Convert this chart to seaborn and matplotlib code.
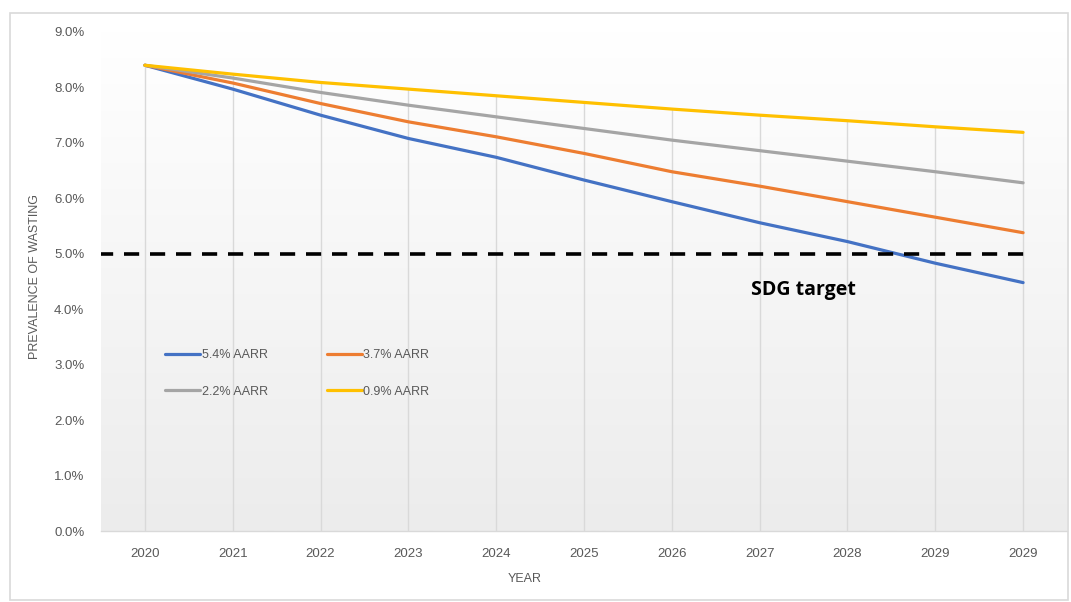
import numpy as np
import pandas as pd
import matplotlib
matplotlib.use("Agg")
import matplotlib.pyplot as plt
import seaborn as sns
from matplotlib.ticker import PercentFormatter
from matplotlib.patches import Rectangle

# Category labels as printed on the x-axis (last label repeats in the source)
year_labels = ["2020", "2021", "2022", "2023", "2024", "2025",
               "2026", "2027", "2028", "2029", "2029"]

# Projected prevalence of wasting (%) for each AARR scenario
aarr_54 = [8.40, 7.97, 7.50, 7.08, 6.74, 6.33, 5.94, 5.56, 5.22, 4.83, 4.48]
aarr_37 = [8.40, 8.08, 7.71, 7.38, 7.11, 6.81, 6.48, 6.22, 5.94, 5.66, 5.38]
aarr_22 = [8.40, 8.17, 7.91, 7.68, 7.47, 7.26, 7.05, 6.86, 6.67, 6.48, 6.28]
aarr_09 = [8.40, 8.24, 8.09, 7.97, 7.85, 7.73, 7.61, 7.50, 7.40, 7.29, 7.19]

series_names = ["5.4% AARR", "3.7% AARR", "2.2% AARR", "0.9% AARR"]
sdg_target = 5.0

colours = {"5.4% AARR": "#4472C4", "3.7% AARR": "#ED7D31",
           "2.2% AARR": "#A5A5A5", "0.9% AARR": "#FFC000"}

# long-form table for seaborn
pos = np.arange(len(year_labels))
rows = []
for name, vals in zip(series_names, [aarr_54, aarr_37, aarr_22, aarr_09]):
    for p, v in zip(pos, vals):
        rows.append({"pos": p, "value": v, "series": name})
df = pd.DataFrame(rows)

sns.set_style("white")
plt.rcParams["font.family"] = ["Liberation Sans Narrow", "Liberation Sans", "DejaVu Sans"]

fig = plt.figure(figsize=(10.71, 6.02), dpi=100)
ax = fig.add_axes([101 / 1071, 71 / 602, 966 / 1071, 499 / 602])

# outer chart frame
fig.patches.append(Rectangle((10 / 1071, 2 / 602), 1058 / 1071, 587 / 602,
                             transform=fig.transFigure, fill=False,
                             edgecolor="#d9d9d9", linewidth=1.2, zorder=0))

# gradient plot-area background (white at top -> light grey at bottom)
grad = np.linspace(1, 0, 256).reshape(-1, 1)
ax.imshow(grad, extent=[0, 1, 0, 1], transform=ax.transAxes, aspect="auto",
          cmap=matplotlib.colors.LinearSegmentedColormap.from_list(
              "bg", ["#ececec", "#ffffff"]), zorder=0)

# drop lines from top series down to the axis
top_vals = df.groupby("pos")["value"].max()
ax.vlines(top_vals.index, 0, top_vals.values, color="#d9d9d9", linewidth=1.0, zorder=1)

sns.lineplot(data=df, x="pos", y="value", hue="series", hue_order=series_names,
             palette=colours, linewidth=2.3, ax=ax, legend=False, zorder=3)

# SDG target line
ax.plot([-0.53, 10.12], [sdg_target, sdg_target], color="black", linewidth=2.6,
        dashes=(4.2, 3.0), zorder=4, solid_capstyle="butt")
ax.text(6.9, sdg_target - 0.65, "SDG target", fontsize=14, fontweight="bold",
        color="black", family=["Open Sans", "DejaVu Sans"], va="center", ha="left")

ax.set_xlim(-0.5, 10.5)
ax.set_ylim(0, 9.0)
ax.set_yticks(np.arange(0, 9.01, 1.0))
ax.yaxis.set_major_formatter(PercentFormatter(decimals=1))
ax.set_xticks(pos)
ax.set_xticklabels(year_labels)
ax.tick_params(axis="both", length=0, labelsize=9.5, labelcolor="#595959")
ax.tick_params(axis="x", pad=12)
ax.tick_params(axis="y", pad=12)

for side in ["top", "right", "left"]:
    ax.spines[side].set_visible(False)
ax.spines["bottom"].set_color("#d9d9d9")
ax.spines["bottom"].set_linewidth(1.0)

ax.set_xlabel("YEAR", fontsize=9, color="#595959")
ax.xaxis.set_label_coords((525 - 101) / 966, -0.085)
ax.set_ylabel("PREVALENCE OF WASTING", fontsize=9, color="#595959")
ax.yaxis.set_label_coords(-0.062, 0.51)

# legend laid out in two rows, two columns
handles = [plt.Line2D([], [], color=colours[n], linewidth=2.3) for n in series_names]
order = [0, 2, 1, 3]
leg = ax.legend([handles[i] for i in order], [series_names[i] for i in order],
                ncol=2, loc="center left", bbox_to_anchor=(0.066, 0.316),
                frameon=False, fontsize=9, handlelength=2.8, handletextpad=0.15,
                columnspacing=4.7, labelspacing=1.95, borderpad=0, borderaxespad=0)
for t in leg.get_texts():
    t.set_color("#595959")

fig.savefig("out.png", dpi=100)
